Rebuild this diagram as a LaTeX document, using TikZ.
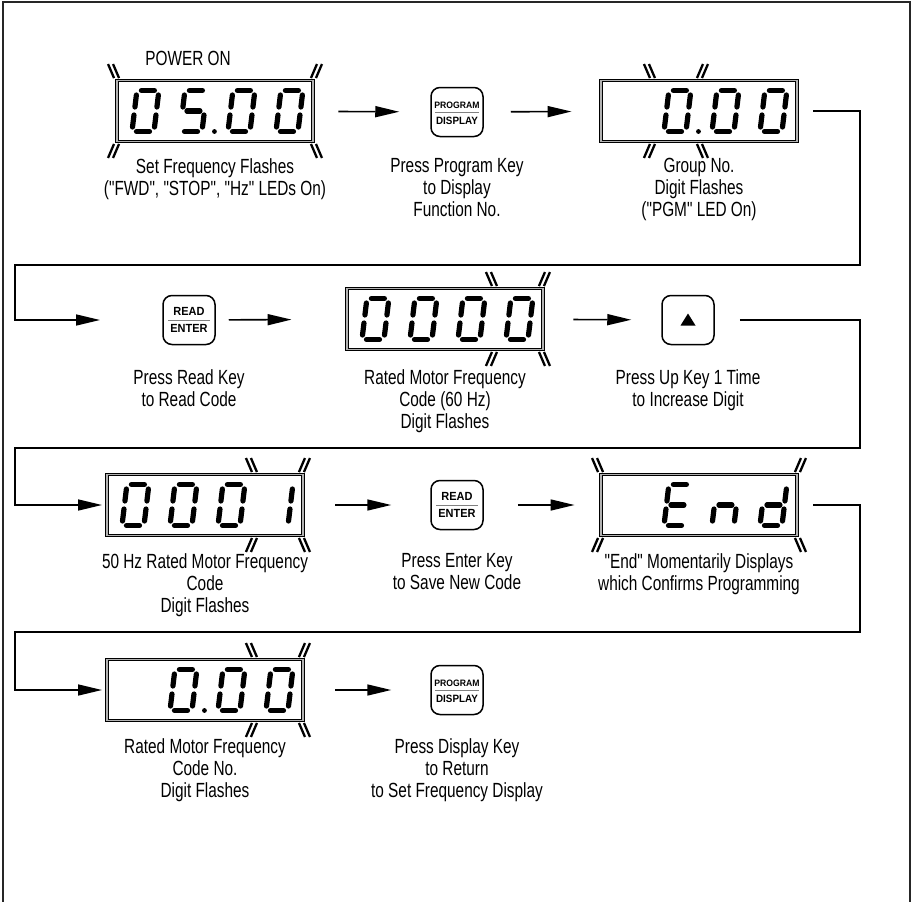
\documentclass[tikz,border=0pt]{standalone}
\usepackage{fontspec}
\setmainfont{Liberation Sans}[FakeStretch=0.75, Ligatures=TeXOff]
\newfontfamily\keyfont{Liberation Sans}[FakeStretch=0.93]
\usetikzlibrary{arrows.meta,calc}
\newcommand\dsegA{\draw[segline] (-6.5,-20.5) -- (6.5,-20.5);}
\newcommand\dsegB{\draw[segline] (11,-16) -- (11,-4);}
\newcommand\dsegC{\draw[segline] (11,4) -- (11,16);}
\newcommand\dsegD{\draw[segline] (-6.5,20.5) -- (6.5,20.5);}
\newcommand\dsegE{\draw[segline] (-11,4) -- (-11,16);}
\newcommand\dsegF{\draw[segline] (-11,-16) -- (-11,-4);}
\newcommand\dsegG{\draw[segline] (-6.5,0) -- (6.5,0);}
\tikzset{
  segline/.style={line width=5.2pt, line cap=round},
  pics/digit/.style={code={\begin{scope}[xslant=0.12]\foreach \s in {#1}{\csname dseg\s\endcsname}\end{scope}}},
  pics/dp/.style={code={\fill (0,0) circle (2.4pt);}},
  flashl/.style={line width=2.3pt},
  pics/fbs/.style={code={\draw[flashl] (-5.5,-7)--(0.5,7) (-0.5,-7)--(5.5,7);}},
  pics/ffs/.style={code={\draw[flashl] (-5.5,7)--(0.5,-7) (-0.5,7)--(5.5,-7);}},
  display/.style={draw, line width=0.9pt, double=gray!60, double distance=1.3pt, minimum width=196pt, minimum height=61pt, inner sep=0pt},
  keybox/.style={draw, line width=1.5pt, rounded corners=9pt, minimum width=52pt, minimum height=49pt, inner sep=0pt},
  keytxt/.style={inner sep=0pt, font=\keyfont\bfseries},
  flow/.style={line width=1.6pt},
  arr/.style={flow, -{Triangle[length=24pt,width=11pt]}},
  captxt/.style={align=center, anchor=north, inner sep=0pt, font=\fontsize{20.5}{22}\selectfont},
}
\begin{document}
\begin{tikzpicture}[x=1pt,y=-1pt]
\useasboundingbox (0,0) rectangle (914,902);
\draw[line width=1.3pt, black!85] (3,902) -- (3,2) -- (910,2) -- (910,902);

% ---------- displays ----------
\node[display] (A) at (215,111) {};
\node[display] (C) at (699,111) {};
\node[display] (D) at (445,319) {};
\node[display] (E) at (205,505) {};
\node[display] (F) at (699,505) {};
\node[display] (G) at (205,690) {};

% digits A: 05.00
\pic at ($(A.east)+(-168,0)$) {digit={A,B,C,D,E,F}};
\pic at ($(A.east)+(-120,0)$) {digit={A,F,G,C,D}};
\pic at ($(A.east)+(-99,20.5)$) {dp};
\pic at ($(A.east)+(-72,0)$) {digit={A,B,C,D,E,F}};
\pic at ($(A.east)+(-24,0)$) {digit={A,B,C,D,E,F}};
% digits C: 0.00
\pic at ($(C.east)+(-120,0)$) {digit={A,B,C,D,E,F}};
\pic at ($(C.east)+(-99,20.5)$) {dp};
\pic at ($(C.east)+(-72,0)$) {digit={A,B,C,D,E,F}};
\pic at ($(C.east)+(-24,0)$) {digit={A,B,C,D,E,F}};
% digits D: 0000
\foreach \k in {24,72,120,168}{\pic at ($(D.east)+(-\k,0)$) {digit={A,B,C,D,E,F}};}
% digits E: 0001
\foreach \k in {72,120,168}{\pic at ($(E.east)+(-\k,0)$) {digit={A,B,C,D,E,F}};}
\pic at ($(E.east)+(-24,0)$) {digit={B,C}};
% digits F: End
\pic at ($(F.east)+(-120,0)$) {digit={A,D,E,F,G}};
\pic at ($(F.east)+(-72,0)$) {digit={C,E,G}};
\pic at ($(F.east)+(-24,0)$) {digit={B,C,D,E,G}};
% digits G: 0.00
\pic at ($(G.east)+(-120,0)$) {digit={A,B,C,D,E,F}};
\pic at ($(G.east)+(-99,20.5)$) {dp};
\pic at ($(G.east)+(-72,0)$) {digit={A,B,C,D,E,F}};
\pic at ($(G.east)+(-24,0)$) {digit={A,B,C,D,E,F}};

% ---------- flash marks ----------
\foreach \n in {A,F}{
  \pic at ($(\n.north west)+(-3,-9)$) {fbs};
  \pic at ($(\n.north east)+(3,-9)$) {ffs};
  \pic at ($(\n.south west)+(-3,9)$) {ffs};
  \pic at ($(\n.south east)+(3,9)$) {fbs};
}
\pic at ($(C.north east)+(-148,-9)$) {fbs};
\pic at ($(C.north east)+(-95,-9)$) {ffs};
\pic at ($(C.south east)+(-148,9)$) {ffs};
\pic at ($(C.south east)+(-95,9)$) {fbs};
\foreach \n in {D,E,G}{
  \pic at ($(\n.north east)+(-52,-9)$) {fbs};
  \pic at ($(\n.north east)+(1,-9)$) {ffs};
  \pic at ($(\n.south east)+(-52,9)$) {ffs};
  \pic at ($(\n.south east)+(1,9)$) {fbs};
}

% ---------- keys ----------
\node[keybox] (K1) at (457,112) {};
\node[keybox] (K2) at (189,320) {};
\node[keybox] (K3) at (688,320) {};
\node[keybox] (K4) at (457,505) {};
\node[keybox] (K5) at (457,690) {};
\foreach \n in {K1,K5}{
  \node[keytxt, font=\keyfont\bfseries\fontsize{9.3}{9}\selectfont] (\n t) at ($(\n.center)+(0,-6.5)$) {PROGRAM};
  \node[keytxt, font=\keyfont\bfseries\fontsize{10.6}{10}\selectfont] (\n b) at ($(\n.center)+(0,8.5)$) {DISPLAY};
  \draw[gray, line width=0.8pt] ($(\n.center)+(-22,0)$) -- ($(\n.center)+(22,0)$);
}
\foreach \n in {K2,K4}{
  \node[keytxt, font=\keyfont\bfseries\fontsize{11.8}{12}\selectfont] (\n t) at ($(\n.center)+(0,-8.5)$) {READ};
  \node[keytxt, font=\keyfont\bfseries\fontsize{11.8}{12}\selectfont] (\n b) at ($(\n.center)+(0,8.5)$) {ENTER};
  \draw[gray, line width=0.8pt] ($(\n.center)+(-21,0)$) -- ($(\n.center)+(21,0)$);
}
\fill ($(K3.center)+(-7.5,5.5)$) -- ($(K3.center)+(7.5,5.5)$) -- ($(K3.center)+(0,-6.5)$) -- cycle;

% ---------- texts ----------
\node[font=\fontsize{20.5}{22}\selectfont, inner sep=0pt] (pwr) at (188,58) {POWER ON};
\node[captxt] (cA) at (215,158) {Set Frequency Flashes\\("FWD", "STOP", "Hz" LEDs On)};
\node[captxt] (cK1) at (457,158) {Press Program Key\\to Display\\Function No.};
\node[captxt] (cC) at (699,158) {Group No.\\Digit Flashes\\("PGM" LED On)};
\node[captxt] (cK2) at (189,369) {Press Read Key\\to Read Code};
\node[captxt] (cD) at (445,369) {Rated Motor Frequency\\Code (60 Hz)\\Digit Flashes};
\node[captxt] (cK3) at (688,369) {Press Up Key 1 Time\\to Increase Digit};
\node[captxt] (cE) at (205,553) {50 Hz Rated Motor Frequency\\Code\\Digit Flashes};
\node[captxt] (cK4) at (457,553) {Press Enter Key\\to Save New Code};
\node[captxt] (cF) at (699,553) {"End" Momentarily Displays\\which Confirms Programming};
\node[captxt] (cG) at (205,738) {Rated Motor Frequency\\Code No.\\Digit Flashes};
\node[captxt] (cK5) at (457,738) {Press Display Key\\to Return\\to Set Frequency Display};

% ---------- connectors ----------
\draw[arr, shorten <=25pt, shorten >=31pt] (A) -- (K1);
\draw[arr, shorten <=27pt, shorten >=29pt] (K1) -- (C);
\draw[arr, shorten <=13pt, shorten >=55pt] (K2) -- (D);
\draw[arr, shorten <=30pt, shorten >=30pt] (D) -- (K3);
\draw[arr, shorten <=32pt, shorten >=39pt] (E) -- (K4);
\draw[arr, shorten <=34pt, shorten >=26pt] (K4) -- (F);
\draw[arr, shorten <=32pt, shorten >=39pt] (G) -- (K5);

\coordinate (r1) at (860,265); \coordinate (l1) at (15,265); \coordinate (e2) at (100,320);
\coordinate (r2) at (860,448); \coordinate (l2) at (15,448); \coordinate (e3) at (102,505);
\coordinate (r3) at (860,632); \coordinate (l3) at (15,632); \coordinate (e4) at (102,690);
\draw[arr] ([xshift=16pt]C.east) -| (r1) -- (l1) |- (e2);
\draw[arr] ([xshift=25pt]K3.east) -| (r2) -- (l2) |- (e3);
\draw[arr] ([xshift=16pt]F.east) -| (r3) -- (l3) |- (e4);
\end{tikzpicture}
\end{document}
